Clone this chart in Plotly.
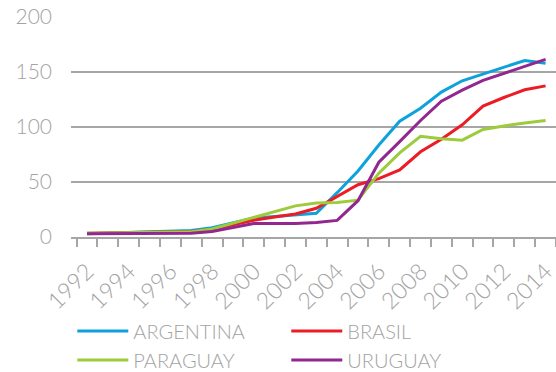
import plotly.graph_objects as go

# Years on the horizontal axis
years = list(range(1992, 2015))

# Index values per country, one per year
argentina = [3.0, 3.5, 4.0, 4.5, 5.0, 6.0, 8.4, 12.9, 17.2, 18.6, 20.0, 21.5,
             40.3, 60.0, 83.6, 105.3, 117.0, 131.7, 142.0, 148.0, 154.3, 160.5, 158.0]
brasil = [3.4, 3.6, 3.9, 4.2, 4.5, 4.9, 7.0, 11.2, 15.3, 18.1, 20.9, 26.1,
          36.7, 47.5, 53.1, 61.0, 77.5, 88.8, 102.0, 119.0, 126.8, 133.8, 137.4]
paraguay = [3.5, 3.7, 3.9, 4.2, 4.5, 4.8, 7.3, 12.5, 17.8, 23.0, 28.3, 30.8,
            31.4, 33.5, 58.0, 76.5, 91.5, 89.3, 88.0, 97.7, 101.0, 103.6, 106.0]
uruguay = [2.9, 3.0, 3.1, 3.2, 3.3, 3.4, 5.0, 8.7, 12.2, 12.2, 12.2, 13.2,
           15.1, 33.0, 68.0, 86.7, 105.9, 123.5, 133.5, 142.4, 148.8, 155.1, 161.5]

series_names = ["ARGENTINA", "BRASIL", "PARAGUAY", "URUGUAY"]
series_values = [argentina, brasil, paraguay, uruguay]
series_colors = ["#0ea2dc", "#ec1c24", "#9dcb3c", "#92278f"]

# Axis labels
x_tick_years = list(range(1992, 2015, 2))
x_tick_text = [str(y) for y in x_tick_years]
x_boundaries = [y - 0.5 for y in range(1992, 2016)]
y_ticks = [0, 50, 100, 150, 200]

TEXT_GRAY = "#a3a3a3"
LINE_GRAY = "#a6a6a6"
FONT = "Lato"

fig = go.Figure()
for name, vals, color in zip(series_names, series_values, series_colors):
    fig.add_trace(go.Scatter(
        x=years, y=vals, name=name, mode="lines",
        line=dict(color=color, width=3),
    ))

fig.update_layout(
    width=556, height=372,
    margin=dict(l=71, r=0, t=17, b=135, autoexpand=False),
    paper_bgcolor="white", plot_bgcolor="white",
    font=dict(family=FONT, color=TEXT_GRAY, size=20, weight=300),
    showlegend=True,
    legend=dict(
        orientation="h",
        xref="container", yref="container",
        x=0.13, y=0.1626, xanchor="left", yanchor="top",
        entrywidth=148, entrywidthmode="pixels",
        font=dict(family=FONT, color=TEXT_GRAY, size=20, weight=300),
        itemwidth=51,
        tracegroupgap=0,
    ),
)

fig.update_xaxes(
    range=[1991.23, 2014.5],
    tickmode="array", tickvals=x_tick_years, ticktext=x_tick_text,
    tickangle=-45, ticklabeloverflow="allow",
    ticks="outside", ticklen=10, tickcolor="rgba(0,0,0,0)",
    showgrid=False, zeroline=False,
    showline=True, linecolor=LINE_GRAY, linewidth=1.5,
    tickfont=dict(family=FONT, color=TEXT_GRAY, size=23, weight=300),
    minor=dict(tickmode="array", tickvals=x_boundaries, ticks="outside",
               ticklen=8, tickwidth=1.5, tickcolor=LINE_GRAY, showgrid=False),
)

fig.update_yaxes(
    range=[0, 200],
    tickmode="array", tickvals=y_ticks,
    showgrid=True, gridcolor=LINE_GRAY, gridwidth=1.5,
    zeroline=False, showline=False,
    ticks="", ticklabelstandoff=18,
    tickfont=dict(family=FONT, color=TEXT_GRAY, size=21, weight=300),
)

fig.write_html("out.html")
